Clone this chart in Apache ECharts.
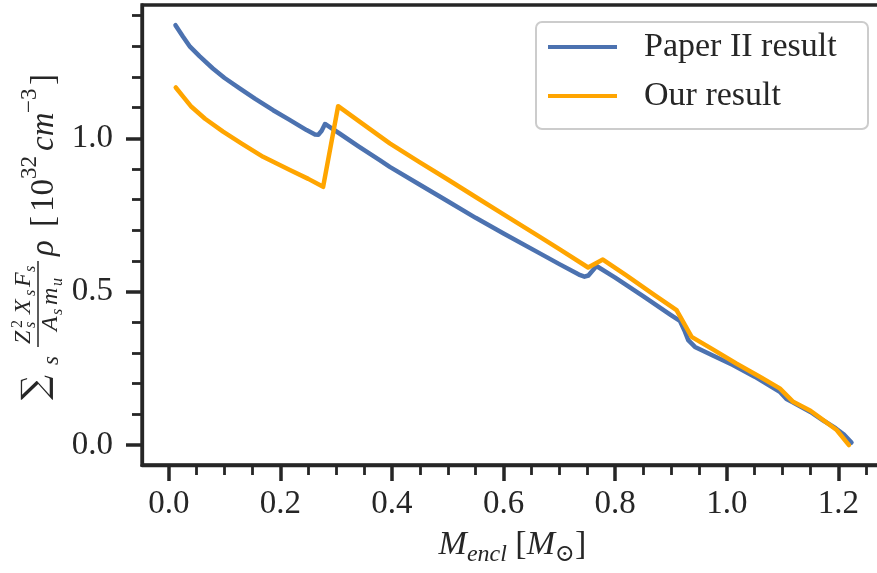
<!DOCTYPE html>
<html>
<head>
<meta charset="utf-8">
<script src="https://cdn.jsdelivr.net/npm/echarts@6/dist/echarts.min.js"></script>
<style>
  html, body { margin: 0; padding: 0; background: #ffffff; }
  #chart { width: 877px; height: 573px; }
</style>
</head>
<body>
<div id="chart"></div>
<script>
// Enclosed mass [M_sun] and the weighted charge sum for each profile
const paperMass = [0.012, 0.025, 0.038, 0.055, 0.079, 0.100, 0.127, 0.155, 0.187, 0.215, 0.247, 0.262, 0.268, 0.274, 0.280, 0.290, 0.306, 0.340, 0.378, 0.396, 0.450, 0.500, 0.550, 0.600, 0.665, 0.700, 0.735, 0.745, 0.752, 0.7665, 0.800, 0.850, 0.900, 0.916, 0.925, 0.931, 0.943, 0.975, 1.011, 1.050, 1.095, 1.107, 1.119, 1.150, 1.173, 1.195, 1.210, 1.2235];
const paperValue = [1.369, 1.333, 1.299, 1.268, 1.228, 1.197, 1.163, 1.129, 1.092, 1.062, 1.027, 1.013, 1.012, 1.025, 1.047, 1.035, 1.016, 0.974, 0.929, 0.907, 0.849, 0.795, 0.741, 0.690, 0.625, 0.590, 0.556, 0.549, 0.553, 0.584, 0.546, 0.486, 0.424, 0.405, 0.370, 0.342, 0.320, 0.292, 0.261, 0.223, 0.174, 0.150, 0.139, 0.108, 0.080, 0.055, 0.034, 0.008];

const ourMass = [0.0125, 0.025, 0.0406, 0.065, 0.0973, 0.130, 0.169, 0.217, 0.250, 0.2766, 0.3035, 0.350, 0.396, 0.450, 0.500, 0.550, 0.600, 0.665, 0.700, 0.7515, 0.778, 0.820, 0.870, 0.910, 0.937, 0.975, 1.017, 1.060, 1.095, 1.119, 1.150, 1.173, 1.197, 1.219];
const ourValue = [1.166, 1.138, 1.103, 1.064, 1.022, 0.984, 0.940, 0.897, 0.868, 0.842, 1.105, 1.044, 0.984, 0.922, 0.866, 0.809, 0.752, 0.679, 0.639, 0.579, 0.605, 0.553, 0.490, 0.440, 0.353, 0.312, 0.266, 0.222, 0.185, 0.141, 0.112, 0.0815, 0.049, 0.000];

const seriesNames = ['Paper II result', 'Our result'];

// Tick positions
const xMajorTicks = [0.0, 0.2, 0.4, 0.6, 0.8, 1.0, 1.2];
const xMinorTicks = [0.05, 0.10, 0.15, 0.25, 0.30, 0.35, 0.45, 0.50, 0.55, 0.65, 0.70, 0.75, 0.85, 0.90, 0.95, 1.05, 1.10, 1.15, 1.25];
const yMajorTicks = [0.0, 0.5, 1.0];
const yMinorTicks = [0.1, 0.2, 0.3, 0.4, 0.6, 0.7, 0.8, 0.9, 1.1, 1.2, 1.3, 1.4];

const INK = '#262626';
const SERIF = "'Liberation Serif', 'DejaVu Serif', serif";
const BLUE = '#4C72B0';
const ORANGE = '#FFA500';

const xRange = { min: -0.048, max: 1.28 };
const yRange = { min: -0.065, max: 1.435 };

const pairs = (xs, ys) => xs.map((x, i) => [x, ys[i]]);

// Rotated y-axis title built from pieces (sum, fraction, density, units)
function piece(text, u, v, size, extra) {
  return {
    type: 'text', x: u, y: v,
    style: Object.assign({
      text: text, fontSize: size, fontFamily: SERIF, fontStyle: 'italic',
      fill: INK, align: 'left', verticalAlign: 'middle'
    }, extra || {})
  };
}
const upright = { fontStyle: 'normal' };
const yTitle = {
  type: 'group', x: 55, y: 400, rotation: Math.PI / 2, silent: true,
  children: [
    piece('\u2211', 0, -18, 35, { fontStyle: 'normal', fontFamily: "'DejaVu Serif', serif" }),
    piece('s', 35, -3, 23),
    // numerator
    piece('Z', 56, -31, 24),
    piece('2', 72, -37, 16, upright),
    piece('s', 72, -24, 16),
    piece('X', 86, -31, 24),
    piece('s', 104, -24, 16),
    piece('F', 113, -31, 24),
    piece('s', 128, -24, 16),
    { type: 'line', shape: { x1: 53, y1: -17, x2: 139, y2: -17 }, style: { stroke: INK, lineWidth: 1.5 } },
    // denominator
    piece('A', 69, -4, 24),
    piece('s', 85, 3, 16),
    piece('m', 95, -4, 24),
    piece('u', 114, 3, 16),
    // density and units
    piece('\u03C1', 144, -11, 33),
    piece('[', 173, -11, 33, upright),
    piece('10', 188, -11, 33, upright),
    piece('32', 221, -25, 23, upright),
    piece('cm', 249, -11, 33),
    piece('\u22123', 287, -25, 23, upright),
    piece(']', 315, -11, 33, upright)
  ]
};

const chart = echarts.init(document.getElementById('chart'), null, { renderer: 'canvas' });

const tickLabel = {
  fontSize: 33, fontFamily: SERIF, color: INK,
  formatter: v => v.toFixed(1)
};

chart.setOption({
  animation: false,
  backgroundColor: '#ffffff',
  grid: {
    left: 142, top: 5, width: 741, height: 460,
    show: true, borderColor: INK, borderWidth: 3.3, backgroundColor: 'transparent',
    outerBoundsMode: 'none'
  },
  legend: {
    left: 536, top: 22, orient: 'vertical',
    icon: 'rect', itemWidth: 69, itemHeight: 4, itemGap: 15,
    padding: [8, 16, 16, 12],
    borderColor: '#cccccc', borderWidth: 2, borderRadius: 6,
    backgroundColor: 'rgba(255,255,255,0.8)',
    textStyle: { fontSize: 34, lineHeight: 32, fontFamily: SERIF, color: INK, width: 208, padding: [0, 0, 0, 22] },
    data: seriesNames
  },
  xAxis: [
    {
      type: 'value', min: xRange.min, max: xRange.max, position: 'bottom',
      axisLine: { show: true, onZero: false, lineStyle: { color: INK, width: 3.3 } },
      axisTick: { show: true, customValues: xMajorTicks, length: 16, lineStyle: { color: INK, width: 3.5 } },
      axisLabel: Object.assign({ customValues: xMajorTicks, margin: 23 }, tickLabel),
      splitLine: { show: false },
      name: '{it|M}{sub|encl} {rm|[}{it|M}{sub|\u2299}{rm|]}',
      nameLocation: 'middle', nameGap: 63,
      nameTextStyle: {
        fontSize: 34, fontFamily: SERIF, color: INK,
        rich: {
          it: { fontSize: 34, fontFamily: SERIF, fontStyle: 'italic', color: INK, verticalAlign: 'top', lineHeight: 34 },
          rm: { fontSize: 34, fontFamily: SERIF, color: INK, verticalAlign: 'top', lineHeight: 34 },
          sub: { fontSize: 24, fontFamily: SERIF, fontStyle: 'italic', color: INK, verticalAlign: 'top', lineHeight: 24, padding: [15, 0, 0, 0] }
        }
      }
    },
    {
      type: 'value', min: xRange.min, max: xRange.max, position: 'bottom',
      axisLine: { show: false, onZero: false },
      axisTick: { show: true, customValues: xMinorTicks, length: 10, lineStyle: { color: INK, width: 2.8 } },
      axisLabel: { show: false },
      splitLine: { show: false }
    }
  ],
  yAxis: [
    {
      type: 'value', min: yRange.min, max: yRange.max, position: 'left',
      axisLine: { show: true, onZero: false, lineStyle: { color: INK, width: 3.3 } },
      axisTick: { show: true, customValues: yMajorTicks, length: 16, lineStyle: { color: INK, width: 3.5 } },
      axisLabel: Object.assign({ customValues: yMajorTicks, margin: 29 }, tickLabel),
      splitLine: { show: false }
    },
    {
      type: 'value', min: yRange.min, max: yRange.max, position: 'left',
      axisLine: { show: false, onZero: false },
      axisTick: { show: true, customValues: yMinorTicks, length: 10, lineStyle: { color: INK, width: 2.8 } },
      axisLabel: { show: false },
      splitLine: { show: false }
    }
  ],
  series: [
    {
      name: seriesNames[0], type: 'line', xAxisIndex: 0, yAxisIndex: 0,
      data: pairs(paperMass, paperValue),
      showSymbol: false, symbol: 'none', color: BLUE,
      lineStyle: { color: BLUE, width: 4.5, join: 'round', cap: 'round' }
    },
    {
      name: seriesNames[1], type: 'line', xAxisIndex: 0, yAxisIndex: 0,
      data: pairs(ourMass, ourValue),
      showSymbol: false, symbol: 'none', color: ORANGE,
      lineStyle: { color: ORANGE, width: 4.5, join: 'round', cap: 'round' }
    }
  ],
  graphic: [yTitle]
});
</script>
</body>
</html>
